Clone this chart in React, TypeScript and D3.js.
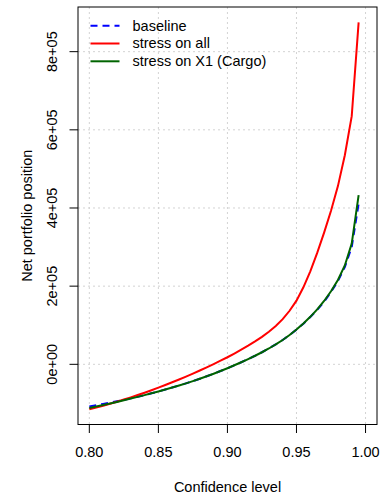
import React from 'react';
import * as d3 from 'd3';

// confidence levels (0.005 steps)
const levels = [
  0.8, 0.805, 0.81, 0.815, 0.82, 0.825, 0.83, 0.835, 0.84, 0.845,
  0.85, 0.855, 0.86, 0.865, 0.87, 0.875, 0.88, 0.885, 0.89, 0.895,
  0.9, 0.905, 0.91, 0.915, 0.92, 0.925, 0.93, 0.935, 0.94, 0.945,
  0.95, 0.955, 0.96, 0.965, 0.97, 0.975, 0.98, 0.985, 0.99, 0.995,
];

const baseline = [
  -108000, -104800, -101500, -98000, -94500, -91000, -87200, -83000, -78800, -74200,
  -69500, -64600, -59500, -54200, -48700, -43000, -37000, -30700, -24100, -17200,
  -10000, -2500, 5300, 13400, 21900, 30900, 40500, 50900, 62300, 74900,
  88900, 104000, 121000, 139500, 160000, 185000, 213000, 249000, 300000, 411000,
];

const stressAll = [
  -115000, -110500, -105800, -100800, -95600, -90200, -84600, -78700, -72600, -66300,
  -59800, -53000, -46000, -38800, -31400, -23700, -15800, -7700, 700, 9300,
  18100, 27500, 37300, 47600, 58500, 70100, 83500, 98000, 115500, 137000,
  163000, 197000, 238000, 285000, 337000, 393000, 456000, 535000, 635000, 875000,
];

const stressX1 = [
  -112000, -108200, -104300, -100300, -96200, -92000, -87700, -83300, -78800, -74200,
  -69500, -64600, -59500, -54200, -48700, -43000, -37000, -30700, -24100, -17200,
  -10000, -2500, 5300, 13400, 21900, 30900, 40500, 50900, 62300, 74900,
  88900, 104500, 121500, 140500, 162000, 187000, 216000, 253000, 309000, 433000,
];

const xTicks = [0.8, 0.85, 0.9, 0.95, 1.0];
const yTicks = [0, 200000, 400000, 600000, 800000];
const yTickLabels = ['0e+00', '2e+05', '4e+05', '6e+05', '8e+05'];

const legendItems = [
  { label: 'baseline', color: '#0000FF', dash: '7,5' },
  { label: 'stress on all', color: '#FF0000', dash: '' },
  { label: 'stress on X1 (Cargo)', color: '#006400', dash: '' },
];

const W = 382;
const H = 496;
const margin = { top: 7, right: 5, bottom: 71.5, left: 78 };
const font = '"Liberation Sans", Arial, Helvetica, sans-serif';

export default function App() {
  const x = d3.scaleLinear().domain([0.7918, 1.0083]).range([margin.left, W - margin.right]);
  const y = d3.scaleLinear().domain([-154000, 914300]).range([H - margin.bottom, margin.top]);

  const line = (vals: number[]) =>
    d3.line<number>()
      .x((_, i) => x(levels[i]))
      .y(d => y(d))(vals) || '';

  const series = [
    { vals: baseline, color: '#0000FF', dash: '7,5' },
    { vals: stressAll, color: '#FF0000', dash: '' },
    { vals: stressX1, color: '#006400', dash: '' },
  ];

  const x0 = margin.left;
  const x1 = W - margin.right;
  const y0 = margin.top;
  const y1 = H - margin.bottom;

  return (
    <svg width={W} height={H} style={{ position: 'absolute', left: 0, top: 0, background: '#fff' }} fontFamily={font}>
      {/* grid */}
      {xTicks.map(t => (
        <line key={'gx' + t} x1={x(t)} x2={x(t)} y1={y0} y2={y1} stroke="#D3D3D3" strokeWidth={1} strokeDasharray="2,3" />
      ))}
      {yTicks.map(t => (
        <line key={'gy' + t} x1={x0} x2={x1} y1={y(t)} y2={y(t)} stroke="#D3D3D3" strokeWidth={1} strokeDasharray="2,3" />
      ))}

      {/* series */}
      {series.map((s, i) => (
        <path key={i} d={line(s.vals)} fill="none" stroke={s.color} strokeWidth={2} strokeDasharray={s.dash || undefined} />
      ))}

      {/* box */}
      <rect x={x0} y={y0} width={x1 - x0} height={y1 - y0} fill="none" stroke="#000" strokeWidth={1} />

      {/* x axis */}
      {xTicks.map(t => (
        <g key={'xt' + t}>
          <line x1={x(t)} x2={x(t)} y1={y1} y2={y1 + 8.5} stroke="#000" />
          <text x={x(t)} y={457} textAnchor="middle" fontSize={14.5} fill="#000">{t.toFixed(2)}</text>
        </g>
      ))}
      <text x={(x0 + x1) / 2} y={492} textAnchor="middle" fontSize={14.5} fill="#000">Confidence level</text>

      {/* y axis */}
      {yTicks.map((t, i) => (
        <g key={'yt' + t}>
          <line x1={x0 - 8.5} x2={x0} y1={y(t)} y2={y(t)} stroke="#000" />
          <text transform={`translate(57,${y(t)}) rotate(-90)`} textAnchor="middle" fontSize={14.5} fill="#000">{yTickLabels[i]}</text>
        </g>
      ))}
      <text transform={`translate(32,${(y0 + y1) / 2}) rotate(-90)`} textAnchor="middle" fontSize={14.5} fill="#000">Net portfolio position</text>

      {/* legend */}
      {legendItems.map((d, i) => (
        <g key={d.label} transform={`translate(0,${i * 17.8})`}>
          <line x1={90.5} x2={119.5} y1={25.7} y2={25.7} stroke={d.color} strokeWidth={2} strokeDasharray={d.dash || undefined} />
          <text x={132.5} y={30.5} fontSize={14.5} fill="#000">{d.label}</text>
        </g>
      ))}
    </svg>
  );
}
